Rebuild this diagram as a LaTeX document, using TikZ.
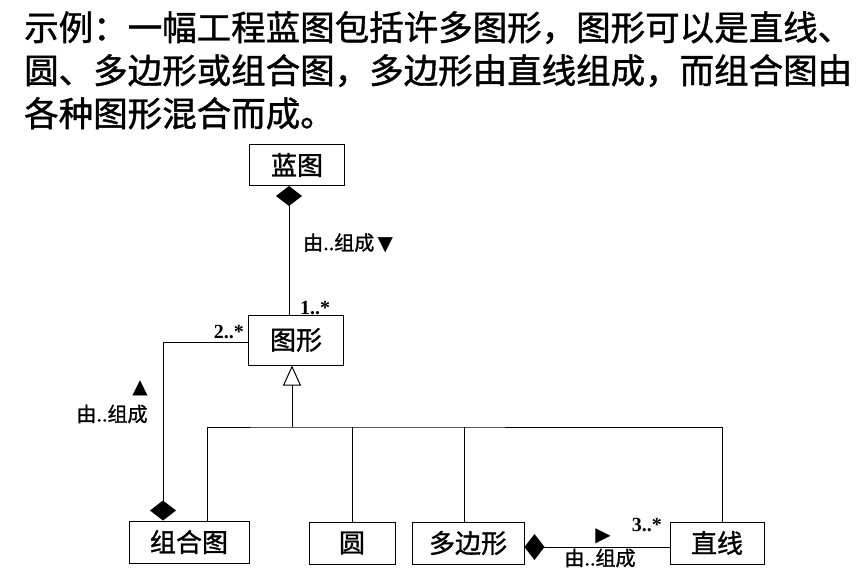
\documentclass[tikz,border=0pt]{standalone}
\usepackage{fontspec}
\setmainfont{Liberation Serif}
\newfontfamily\cjk[FakeBold=1.2]{Noto Sans CJK SC}
\newfontfamily\symfont{DejaVu Sans}
\usepackage{tikz}
\usetikzlibrary{arrows.meta,positioning,calc}
\tikzstyle{cls}    =[rectangle, draw=black, line width=1pt, inner sep=0pt,
                     minimum height=42pt, font=\cjk\fontsize{26}{28}\selectfont]
\tikzstyle{lbl}    =[inner sep=0pt, font=\cjk\fontsize{20}{22}\selectfont]
\tikzstyle{mult}   =[inner sep=0pt, font=\bfseries\fontsize{20}{22}\selectfont]
\tikzstyle{link}   =[line width=1pt]
\tikzstyle{comp}   =[line width=1pt, -{Diamond[length=20pt,width=26pt]}]
\tikzstyle{inh}    =[line width=1pt, -{Triangle[open,length=20pt,width=18pt]}]

\begin{document}
\begin{tikzpicture}[x=1pt, y=-1pt]
  \useasboundingbox (0,0) rectangle (859,584);

  % ── caption ────────────────────────────────────────────────────────────────
  \node[anchor=north west, align=left, inner sep=0pt,
        font=\cjk\fontsize{34.5}{43}\selectfont] (caption) at (24,11)
    {示例：一幅工程蓝图包括许多图形，图形可以是直线、\\
     圆、多边形或组合图，多边形由直线组成，而组合图由\\
     各种图形混合而成。};

  % ── classes ────────────────────────────────────────────────────────────────
  \node[cls, minimum width=95pt, minimum height=41pt] (lantu)   at (297,165) {蓝图};
  \node[cls, minimum width=95pt, minimum height=50pt] (tuxing)  at (296,340) {图形};
  \node[cls, minimum width=120pt] (zuhe)    at (189,542) {组合图};
  \node[cls, minimum width=86pt]  (yuan)    at (352,543) {圆};
  \node[cls, minimum width=112pt] (duobian) at (468,543) {多边形};
  \node[cls, minimum width=94pt]  (zhixian) at (717,543) {直线};

  % ── composition links ──────────────────────────────────────────────────────
  \draw[comp] ([xshift=-7pt]tuxing.north) -- ([xshift=-8pt]lantu.south);
  \node[lbl, anchor=west] (lblA) at (303,243) {由..组成\,{\symfont\fontsize{20}{20}\selectfont ▼}};
  \node[mult, anchor=south west] (multA) at (300,315) {1..*};

  \draw[comp] (tuxing.west |- 0,342) -| ([xshift=-26pt]zuhe.north);
  \node[mult, anchor=south east] (multB) at (244,339) {2..*};
  \node[lbl] (triB) at (140,388) {\symfont\fontsize{20}{20}\selectfont ▲};
  \node[lbl] (lblB) at (112,414) {由..组成};

  \draw[comp] (zhixian.west |- 0,547) -- (duobian.east |- 0,547);
  \node[lbl] (triC) at (603,536) {\symfont\fontsize{20}{20}\selectfont ▶};
  \node[mult, anchor=south east] (multC) at (662,532) {3..*};
  \node[lbl] (lblC) at (600,558) {由..组成};

  % ── generalisation tree ────────────────────────────────────────────────────
  \coordinate (bus) at (292,427);
  \draw[inh] (bus) -- (bus |- tuxing.south);
  \draw[link] ([xshift=18pt]zuhe.north) |- (bus) -| (zhixian.north -| 722,0);
  \draw[link] (yuan.north) -- (yuan.north |- bus);
  \draw[link] ([xshift=-4pt]duobian.north) -- ([xshift=-4pt]duobian.north |- bus);

\end{tikzpicture}
\end{document}
